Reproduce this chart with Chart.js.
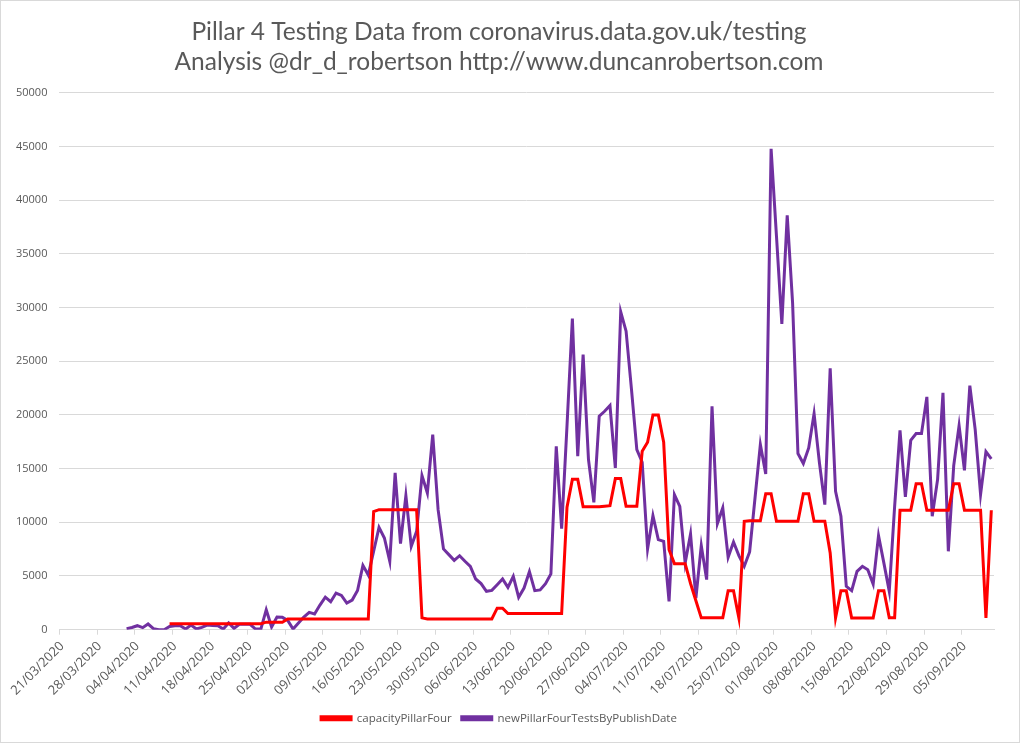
<!DOCTYPE html>
<html>
<head>
<meta charset="utf-8">
<script src="https://cdn.jsdelivr.net/npm/chart.js@4"></script>
<style>
body { margin: 0; background: #fff; }
#wrap { position: absolute; left: 0; top: 0; width: 1018px; height: 741px; border: 1px solid #d9d9d9; overflow: hidden; }
</style>
</head>
<body>
<div id="wrap"><canvas id="chart" width="1018" height="741"></canvas></div>
<script>
// first day on the axis is 21/03/2020, one category per day up to 10/09/2020
var startDay = new Date(2020, 2, 21);
var dayCount = 174;
var labelEvery = 7;

var titleLines = [
	"Pillar 4 Testing Data from coronavirus.data.gov.uk/testing",
	"Analysis @dr_d_robertson http://www.duncanrobertson.com"
];

// capacityPillarFour, starts 10/04
var capacityPillarFour = [
	null,null,null,null,null,null,null,null,null,null,
	null,null,null,null,null,null,null,null,null,null,
	550,550,550,550,550,550,550,550,550,550,
	550,550,550,550,550,550,550,550,700,700,
	700,700,1000,1000,1000,1000,1000,1000,1000,1000,
	1000,1000,1000,1000,1000,1000,1000,1000,11000,11180,
	11180,11180,11180,11180,11180,11180,11180,1100,1000,1000,
	1000,1000,1000,1000,1000,1000,1000,1000,1000,1000,
	1000,2000,2000,1500,1500,1500,1500,1500,1500,1500,
	1500,1500,1500,1500,11400,14000,14000,11450,11450,11450,
	11450,11500,11550,14070,14070,11490,11490,11490,16610,17450,
	20000,20000,17450,7450,6150,6150,6150,4300,2700,1100,
	1100,1100,1100,1100,3630,3630,1090,10090,10150,10150,
	10150,12670,12670,10090,10090,10090,10090,10090,12670,12670,
	10090,10090,10090,7140,1090,3630,3630,1090,1090,1090,
	1090,1090,3630,3630,1100,1100,11120,11120,11120,13600,
	13600,11120,11120,11120,11120,11120,13600,13600,11120,11120,
	11120,11120,1100,11120
];

// newPillarFourTestsByPublishDate, starts 02/04
var newPillarFourTests = [
	null,null,null,null,null,null,null,null,null,null,
	null,null,100,200,370,190,530,100,0,0,
	300,370,370,60,430,60,220,430,400,370,
	60,620,120,500,500,500,60,60,1860,250,
	1180,1150,870,60,620,1180,1610,1460,2290,3030,
	2600,3410,3190,2480,2760,3650,5990,5090,7300,9530,
	8540,6370,14600,8010,12480,7760,9160,14350,12730,18170,
	11180,7520,6990,6460,6890,6370,5900,4720,4290,3570,
	3660,4190,4720,3940,4970,3010,3880,5400,3630,3700,
	4290,5190,17080,9400,19000,28980,16150,25620,15840,11860,
	19880,20340,20870,15060,29600,27800,22400,16770,15590,7520,
	10620,8390,8230,2640,12580,11490,6210,8910,2950,7830,
	4660,20810,9880,11340,6740,8170,6900,5900,7240,12240,
	17240,14500,44780,36650,28480,38580,30430,16400,15470,16930,
	20120,15530,11650,24350,12890,10560,4040,3630,5430,5900,
	5590,4250,8760,6200,3570,11490,18570,12360,17640,18260,
	18260,21680,10560,14000,22050,7300,15280,19010,14840,22730,
	18630,12580,16580,15900
];

var dateLabels = [];
for (var i = 0; i < dayCount; i++)
{
	var d = new Date(startDay.getFullYear(), startDay.getMonth(), startDay.getDate() + i);
	var dd = String(d.getDate()).padStart(2, "0");
	var mm = String(d.getMonth() + 1).padStart(2, "0");
	dateLabels.push(dd + "/" + mm + "/" + d.getFullYear());
}

var textGrey = "#595959";
var lineGrey = "#d9d9d9";

new Chart("chart",
{
	type: "line",
	data:
	{
		labels: dateLabels,
		datasets: [
		{
			label: "capacityPillarFour",
			data: capacityPillarFour,
			borderColor: "#ff0000",
			backgroundColor: "#ff0000",
			borderWidth: 3,
			pointRadius: 0,
			fill: false
		},
		{
			label: "newPillarFourTestsByPublishDate",
			data: newPillarFourTests,
			borderColor: "#7030a0",
			backgroundColor: "#7030a0",
			borderWidth: 3,
			pointRadius: 0,
			fill: false
		}]
	},
	options:
	{
		responsive: false,
		animation: false,
		devicePixelRatio: 1,
		layout: { padding: { left: 3, right: 25, top: 0, bottom: 8 } },
		plugins:
		{
			title:
			{
				display: true,
				text: titleLines,
				color: textGrey,
				font: { family: "Lato", size: 24.5, weight: "normal", lineHeight: 1.22 },
				padding: { top: 16, bottom: 16 }
			},
			legend:
			{
				position: "bottom",
				labels:
				{
					boxWidth: 30,
					boxHeight: 3,
					color: textGrey,
					padding: 10,
					font: { family: "Open Sans", size: 11.5 }
				}
			},
			tooltip: { enabled: false }
		},
		scales:
		{
			x:
			{
				offset: true,
				border: { display: true, color: lineGrey },
				grid:
				{
					offset: true,
					drawOnChartArea: false,
					drawTicks: true,
					tickLength: 5,
					color: function(ctx) { return ctx.index % labelEvery === 0 ? lineGrey : "rgba(0,0,0,0)"; }
				},
				ticks:
				{
					autoSkip: false,
					maxRotation: 45,
					minRotation: 45,
					padding: 4,
					color: textGrey,
					font: { family: "Open Sans", size: 13 },
					callback: function(val, idx) { return idx % labelEvery === 0 ? dateLabels[idx] : ""; }
				}
			},
			y:
			{
				min: 0,
				max: 50000,
				border: { display: false },
				grid: { color: lineGrey, drawTicks: false },
				ticks:
				{
					stepSize: 5000,
					padding: 12,
					color: textGrey,
					font: { family: "Open Sans", size: 11 },
					callback: function(val) { return String(val); }
				}
			}
		}
	}
});
</script>
</body>
</html>
